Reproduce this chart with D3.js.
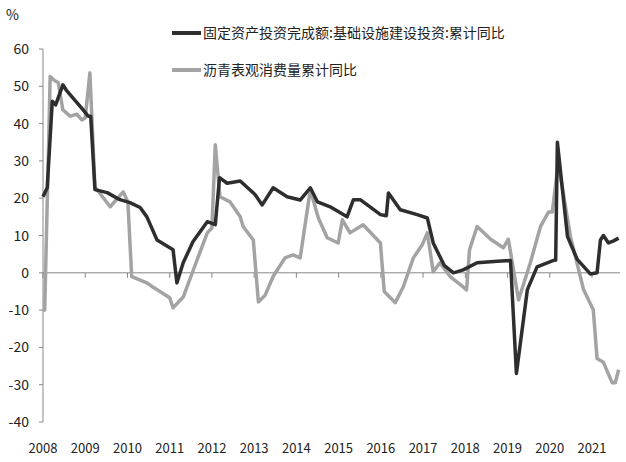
<!DOCTYPE html>
<html><head><meta charset="utf-8">
<script src="https://cdn.jsdelivr.net/npm/d3@7"></script>
<style>body{margin:0;background:#fff}text{font-family:"Noto Sans CJK SC","DejaVu Sans",sans-serif;fill:#222}</style>
</head><body><svg id="chart" width="626" height="462"></svg>
<script>
const yearTicks = [2008,2009,2010,2011,2012,2013,2014,2015,2016,2017,2018,2019,2020,2021];
const valueTicks = [-40,-30,-20,-10,0,10,20,30,40,50,60];
const seriesNames = ["固定资产投资完成额:基础设施建设投资:累计同比", "沥青表观消费量累计同比"];

// [time (decimal year), value %]
const infraSeries = [
  [2008.0,20.4],[2008.1,22.8],[2008.22,46],[2008.3,45],[2008.47,50.4],[2008.55,49],[2008.95,43.7],[2009.07,42],[2009.13,42],
  [2009.23,22.3],[2009.52,21.5],[2009.82,19.6],[2010.06,18.8],[2010.3,17.5],[2010.46,15],[2010.7,8.8],[2011.08,6.2],
  [2011.17,-2.7],[2011.32,2.7],[2011.55,8.3],[2011.89,13.7],[2012.08,12.9],[2012.18,25.5],[2012.36,24],[2012.67,24.6],
  [2013.02,21],[2013.19,18.2],[2013.45,22.8],[2013.78,20.4],[2014.09,19.5],[2014.33,22.8],[2014.5,19],[2014.8,17.7],
  [2015.2,15],[2015.35,19.6],[2015.51,19.6],[2015.68,18.2],[2015.99,15.6],[2016.13,15.3],[2016.18,21.4],[2016.46,16.9],
  [2016.86,15.6],[2017.1,14.7],[2017.24,8],[2017.5,2],[2017.72,0],[2017.95,0.8],[2018.28,2.7],[2018.76,3.1],[2019.07,3.3],
  [2019.21,-27],[2019.47,-4.5],[2019.7,1.6],[2020.09,3.3],[2020.14,3.4],[2020.18,35],[2020.42,9.7],[2020.65,3.6],
  [2020.96,-0.3],[2021.12,0],[2021.2,8.8],[2021.27,10],[2021.39,8],[2021.5,8.5],[2021.63,9.3]
];
const asphaltSeries = [
  [2008.0,-10],[2008.04,-10],[2008.17,52.6],[2008.28,51.5],[2008.36,51],[2008.47,43.7],[2008.64,42],[2008.8,42.5],
  [2008.92,41],[2009.0,41.5],[2009.11,53.6],[2009.23,23],[2009.59,17.7],[2009.9,21.7],[2010.01,19],[2010.1,-1],
  [2010.46,-2.7],[2010.6,-3.8],[2011.0,-6.7],[2011.08,-9.4],[2011.32,-6.5],[2011.65,3.5],[2011.89,10.7],[2012.0,12],
  [2012.08,34.3],[2012.19,20.4],[2012.43,19],[2012.67,15],[2012.74,12.4],[2012.98,8.8],[2013.1,-7.8],[2013.26,-6],
  [2013.45,-1],[2013.73,4],[2013.92,4.8],[2014.09,4],[2014.33,22.3],[2014.52,14.7],[2014.73,9.4],[2014.99,8],
  [2015.09,14.2],[2015.27,10.7],[2015.58,12.9],[2015.99,8],[2016.08,-5],[2016.34,-8],[2016.53,-3.8],[2016.77,4],
  [2016.98,7.5],[2017.1,10.7],[2017.24,0.3],[2017.4,2.7],[2017.64,-1],[2017.95,-3.8],[2018.03,-4.6],[2018.1,6.2],
  [2018.28,12.4],[2018.6,9],[2018.9,6.7],[2019.02,9],[2019.26,-7.3],[2019.54,2.7],[2019.78,12.4],[2019.97,16.3],
  [2020.06,16.3],[2020.2,29.4],[2020.49,9.7],[2020.8,-4.5],[2021.03,-9.9],[2021.12,-23],[2021.27,-24],[2021.48,-29.5],
  [2021.55,-29.5],[2021.63,-26]
];

const svg = d3.select("#chart");
const x = d3.scaleLinear().domain([2008, 2021]).range([43, 592]);
const y = d3.scaleLinear().domain([-40, 60]).range([422, 49]);

// y axis
svg.append("line").attr("x1", x(2008)).attr("x2", x(2008)).attr("y1", y(60)).attr("y2", y(-40)).attr("stroke", "#888");
svg.selectAll(".ytick").data(valueTicks).enter().append("line")
  .attr("x1", x(2008) - 4).attr("x2", x(2008)).attr("y1", d => y(d)).attr("y2", d => y(d)).attr("stroke", "#888");
svg.selectAll(".ylab").data(valueTicks).enter().append("text")
  .attr("x", 29).attr("y", d => y(d) + 5).attr("text-anchor", "end").attr("font-size", 14).text(d => d);
svg.append("text").attr("x", 6).attr("y", 20).attr("font-size", 14).text("%");

// zero line with year ticks
svg.append("line").attr("x1", x(2008)).attr("x2", 620).attr("y1", y(0)).attr("y2", y(0)).attr("stroke", "#888");
svg.selectAll(".xtick").data(yearTicks).enter().append("line")
  .attr("x1", d => x(d)).attr("x2", d => x(d)).attr("y1", y(0)).attr("y2", y(0) + 5).attr("stroke", "#888");
svg.selectAll(".xlab").data(yearTicks).enter().append("text")
  .attr("x", d => x(d)).attr("y", 453).attr("text-anchor", "middle").attr("font-size", 13).text(d => d);

const line = d3.line().x(d => x(d[0])).y(d => y(d[1]));
svg.append("path").datum(asphaltSeries).attr("d", line).attr("fill", "none")
  .attr("stroke", "#a3a3a3").attr("stroke-width", 3.5).attr("stroke-linejoin", "round");
svg.append("path").datum(infraSeries).attr("d", line).attr("fill", "none")
  .attr("stroke", "#2e2e2e").attr("stroke-width", 3.5).attr("stroke-linejoin", "round");

// legend
const legend = [{c: "#2e2e2e", y: 33}, {c: "#a3a3a3", y: 70}];
legend.forEach((l, i) => {
  svg.append("line").attr("x1", 172).attr("x2", 201).attr("y1", l.y).attr("y2", l.y).attr("stroke", l.c).attr("stroke-width", 4);
  svg.append("text").attr("x", 203).attr("y", l.y + 5).attr("font-size", 14).text(seriesNames[i]);
});
</script></body></html>
